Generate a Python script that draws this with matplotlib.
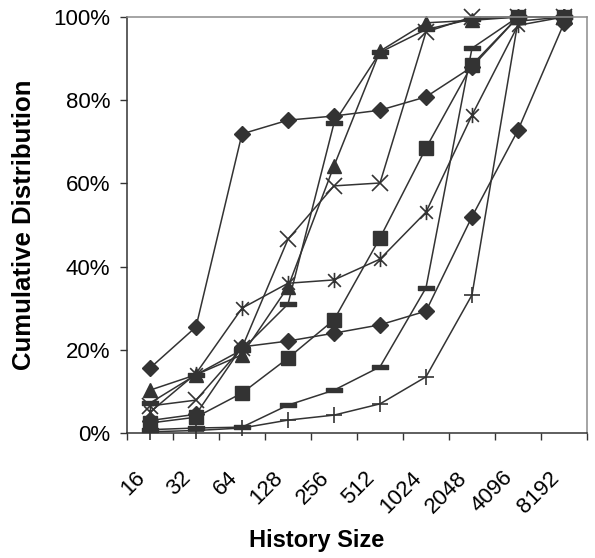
import numpy as np
import matplotlib
matplotlib.use('Agg')
import matplotlib.pyplot as plt
from matplotlib.path import Path
from matplotlib.transforms import ScaledTranslation

plt.rcParams['font.family'] = ['Liberation Sans', 'DejaVu Sans']

# history sizes (categories on the x axis)
sizes = ['16', '32', '64', '128', '256', '512', '1024', '2048', '4096', '8192']

# cumulative distribution (%) per series
diamond_a = [15.6, 25.5, 71.9, 75.2, 76.2, 77.6, 80.8, 88.0, 100, 100]
square_a = [2.4, 3.8, 9.6, 18.0, 27.2, 46.9, 68.5, 88.5, 100, 100]
triangle_a = [10.3, 14.0, 18.8, 35.1, 64.2, 91.8, 98.6, 99.2, 100, 100]
cross_a = [6.5, 7.9, 20.5, 46.6, 59.4, 60.1, 96.4, 100, 100, 100]
star_a = [5.0, 14.3, 30.0, 36.0, 36.8, 41.8, 53.1, 76.4, 98.0, 100]
dash_a = [0.8, 1.2, 1.4, 6.7, 10.3, 15.9, 34.9, 92.5, 100, 100]
plus_a = [0.3, 0.6, 1.2, 3.1, 4.3, 7.0, 13.5, 33.2, 99.0, 100]
diamond_b = [3.0, 4.5, 20.7, 22.1, 24.0, 26.0, 29.3, 52.0, 72.8, 98.5]
dash_b = [7.2, 14.0, 20.0, 31.0, 74.5, 91.5, 97.0, 99.5, 100, 100]

ink = '#333333'

# excel style markers
star_path = Path([(-1, -1), (1, 1), (-1, 1), (1, -1), (0, -1.2), (0, 1.2)],
                 [Path.MOVETO, Path.LINETO, Path.MOVETO, Path.LINETO, Path.MOVETO, Path.LINETO])
bar_path = Path([(-1, -0.28), (1, -0.28), (1, 0.28), (-1, 0.28), (-1, -0.28)],
                [Path.MOVETO, Path.LINETO, Path.LINETO, Path.LINETO, Path.CLOSEPOLY])

series = [
    (diamond_a, 'D', 8, True),
    (square_a, 's', 10.5, True),
    (triangle_a, '^', 10.5, True),
    (cross_a, 'x', 11, False),
    (star_a, star_path, 11, False),
    (dash_a, bar_path, 11.5, True),
    (plus_a, '+', 11.5, False),
    (diamond_b, 'D', 8, True),
    (dash_b, bar_path, 11.5, True),
]

fig = plt.figure(figsize=(5.95, 5.58), dpi=100)
ax = fig.add_axes([127 / 595, 1 - 433 / 558, 460 / 595, 416 / 558])

x = np.arange(len(sizes))
for vals, mk, ms, filled in series:
    ax.plot(x, vals, color=ink, lw=1.1, marker=mk, markersize=ms,
            markerfacecolor=ink if filled else 'none', markeredgecolor=ink,
            markeredgewidth=1.0 if filled else 1.2, clip_on=False)

ax.set_xlim(-0.5, len(sizes) - 0.5)
ax.set_ylim(0, 100)

ax.set_yticks(np.arange(0, 101, 20))
ax.set_yticklabels(['%d%%' % v for v in range(0, 101, 20)], fontsize=16)
ax.tick_params(axis='y', direction='out', length=5, width=1, color=ink, pad=7)

ax.set_xticks(x)
ax.set_xticklabels(sizes, fontsize=16, rotation=45, ha='right', va='center',
                   rotation_mode='anchor')
ax.set_xticks(np.arange(-0.5, len(sizes)), minor=True)
ax.tick_params(axis='x', which='major', length=0, pad=30)
ax.tick_params(axis='x', which='minor', direction='out', length=5, width=1, color=ink)
shift = ScaledTranslation(-8 / 100, 0, fig.dpi_scale_trans)
for lab in ax.get_xticklabels():
    lab.set_transform(lab.get_transform() + shift)

for side in ['left', 'bottom']:
    ax.spines[side].set_color(ink)
    ax.spines[side].set_linewidth(1.1)
for side in ['top', 'right']:
    ax.spines[side].set_color('#8c8c8c')
    ax.spines[side].set_linewidth(1.1)

fig.text(317 / 595, 1 - 540 / 558, 'History Size', fontsize=17, fontweight='bold',
         ha='center', va='center')
fig.text(24 / 595, 1 - 225 / 558, 'Cumulative Distribution', fontsize=18.5,
         fontweight='bold', rotation=90, ha='center', va='center')

fig.savefig('out.png', dpi=100)
